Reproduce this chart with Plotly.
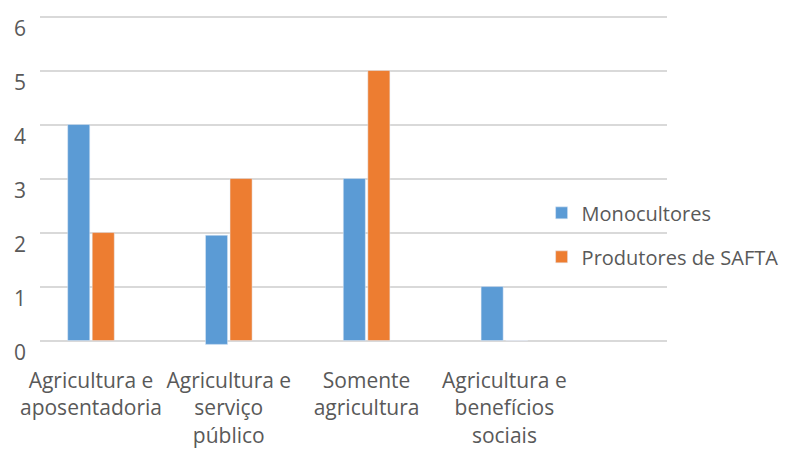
import plotly.graph_objects as go

categories = [
    "Agricultura e<br>aposentadoria",
    "Agricultura e<br>serviço<br>público",
    "Somente<br>agricultura",
    "Agricultura e<br>benefícios<br>sociais",
]
monocultores = [4, 2.02, 3, 1]
monocultores_base = [0, -0.07, 0, 0]
produtores = [2, 3, 5, 0]
y_ticks = [0, 1, 2, 3, 4, 5, 6]

FONT = "Open Sans"
TXT = "#595959"
FS = 21

fig = go.Figure()
fig.add_trace(go.Bar(x=list(range(len(categories))), y=monocultores, base=monocultores_base,
                     name="Monocultores", marker_color="#5B9BD5",
                     legendgroup="a"))
fig.add_trace(go.Bar(x=list(range(len(categories))), y=produtores,
                     name="Produtores de SAFTA", marker_color="#ED7D31",
                     legendgroup="b"))

fig.update_layout(
    width=787, height=449,
    margin=dict(l=40, r=120, t=3, b=103, autoexpand=False),
    paper_bgcolor="white", plot_bgcolor="white",
    barmode="group", bargap=0.644, bargroupgap=0.1,
    font=dict(family=FONT, size=FS, color=TXT),
    showlegend=True,
    legend=dict(x=0.80, xanchor="left", y=0.445, yanchor="top",
                bgcolor="rgba(0,0,0,0)", traceorder="grouped",
                tracegroupgap=15, font=dict(size=20, color=TXT)),
    xaxis=dict(tickmode="array", tickvals=list(range(len(categories))),
               ticktext=categories, range=[-0.37, 4.18], tickangle=0,
               automargin=False,
               showgrid=False, zeroline=False, showline=False,
               ticklabelstandoff=20, tickfont=dict(size=FS, color=TXT)),
    yaxis=dict(range=[-0.1, 6.25], tickvals=y_ticks, automargin=False,
               showgrid=True, gridcolor="#D9D9D9", gridwidth=1.5,
               zeroline=False, showline=False,
               ticklabelstandoff=13, ticklabelshift=12,
               tickfont=dict(size=FS, color=TXT)),
)

fig.write_html("out.html")
